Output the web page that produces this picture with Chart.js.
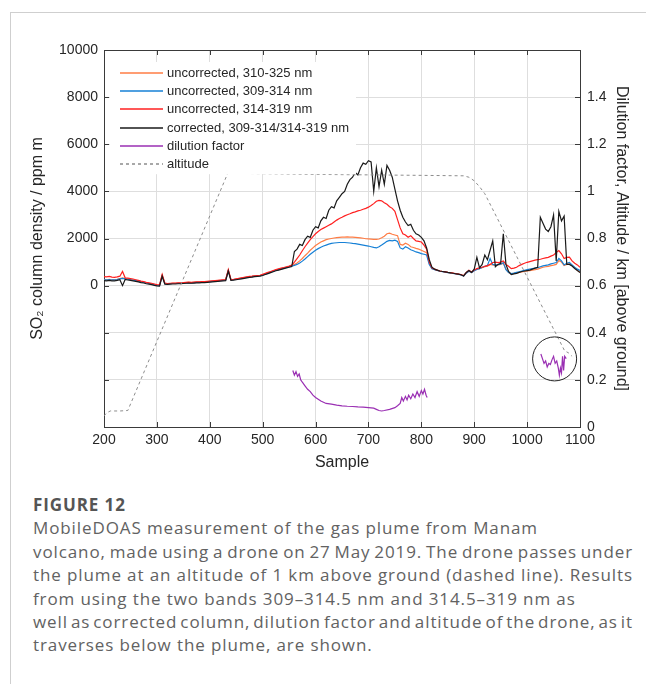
<!DOCTYPE html>
<html><head><meta charset="utf-8">
<script src="https://cdn.jsdelivr.net/npm/chart.js@4.4.1/dist/chart.umd.min.js"></script>
<style>
html,body{margin:0;padding:0;background:#fff;}
body{width:646px;height:684px;position:relative;overflow:hidden;}
#frame{position:absolute;left:10px;top:12px;width:640px;height:680px;border-top:1px solid #cfcfcf;border-left:1px solid #cfcfcf;}
#wrap{position:absolute;left:0;top:0;width:646px;height:480px;}
#cap{position:absolute;left:33px;top:493px;width:600px;font-family:'Open Sans',Lato,sans-serif;color:#626262;font-size:17px;line-height:23.4px;}
#cap .fig{font-weight:bold;font-size:17px;color:#555;}
#cap .l{white-space:nowrap;}
</style></head>
<body>
<div id="frame"></div>
<div id="wrap"><canvas id="c" width="646" height="480"></canvas></div>
<div id="cap">
<div class="fig">FIGURE 12</div>
<div class="l" id="first">MobileDOAS measurement of the gas plume from Manam</div>
<div class="l j">volcano, made using a drone on 27 May 2019. The drone passes under</div>
<div class="l j">the plume at an altitude of 1 km above ground (dashed line). Results</div>
<div class="l">from using the two bands 309–314.5 nm and 314.5–319 nm as</div>
<div class="l j">well as corrected column, dilution factor and altitude of the drone, as it</div>
<div class="l">traverses below the plume, are shown.</div>
</div>
<script>
// Sample grid: 200..1100 every 5 samples
const samples = [];
for (let s = 200; s <= 1100; s += 5) samples.push(s);

// uncorrected, 310-325 nm
const uncorr310_325 = [
 260,250,270,250,250,270,300,330,300,280,
 260,240,220,200,170,150,120,100,80,50,
 20,10,440,90,80,90,100,100,110,110,
 120,130,140,130,140,150,150,160,160,170,
 180,190,200,210,220,230,240,650,250,260,
 280,300,320,340,360,380,390,410,420,430,
 460,500,540,580,620,660,690,720,750,780,
 810,850,900,960,1050,1150,1270,1380,1500,1600,
 1700,1780,1850,1900,1950,1980,2000,2020,2040,2050,
 2060,2060,2070,2060,2060,2050,2040,2030,2010,1990,
 1980,1970,1960,1960,1980,2030,2100,2200,2230,2180,
 2150,2120,1750,1720,1800,1750,1650,1620,1580,1550,
 1500,1450,1400,950,740,690,650,620,600,580,
 560,545,525,505,485,460,420,540,620,560,
 640,700,720,760,800,820,900,880,860,880,
 900,950,700,560,500,520,540,560,580,600,
 620,640,660,680,700,740,780,800,820,850,
 870,900,1060,1000,850,900,930,850,750,650,
 570];

// uncorrected, 309-314 nm
const uncorr309_314 = [
 250,240,260,240,240,260,290,310,290,270,
 250,230,210,190,160,140,110,90,70,40,
 10,0,420,80,70,80,90,90,100,100,
 110,120,130,120,130,140,140,150,150,160,
 170,180,190,200,210,220,230,630,240,250,
 270,290,310,330,350,370,380,400,410,420,
 450,490,530,570,610,650,680,710,740,770,
 800,830,860,900,960,1040,1130,1230,1330,1420,
 1500,1570,1630,1680,1720,1760,1790,1810,1820,1830,
 1830,1830,1820,1810,1790,1780,1760,1740,1720,1700,
 1680,1650,1620,1600,1650,1720,1800,1880,1920,1900,
 1930,1880,1600,1550,1650,1600,1520,1480,1430,1400,
 1360,1330,1300,900,720,680,640,610,590,570,
 550,535,515,495,475,450,410,530,610,550,
 630,690,720,770,820,860,1150,900,870,890,
 910,980,680,560,510,530,560,590,620,650,
 680,700,720,740,760,800,840,860,880,920,
 950,980,1150,1050,880,950,980,880,780,700,
 640];

// uncorrected, 314-319 nm
const uncorr314_319 = [
 380,370,390,360,350,370,400,600,330,320,
 300,280,250,220,190,170,140,120,100,70,
 40,30,470,110,90,100,110,110,120,120,
 130,140,150,140,150,160,160,170,170,180,
 190,200,210,220,230,240,250,680,260,270,
 290,310,330,350,370,390,400,420,430,440,
 480,520,560,600,640,680,710,740,770,800,
 830,870,1000,1150,1300,1480,1650,1800,1950,2080,
 2200,2300,2380,2440,2500,2560,2620,2700,2780,2850,
 2900,2960,3010,3050,3100,3130,3170,3200,3240,3280,
 3330,3400,3480,3580,3620,3600,3520,3450,3350,3280,
 3150,2800,2450,2200,2150,2050,2120,2000,1900,1880,
 1850,1720,1550,1000,760,700,660,620,600,580,
 560,550,530,510,490,470,420,560,650,580,
 660,720,760,780,820,850,900,980,1000,980,
 1000,1050,900,820,720,740,780,850,900,950,
 990,1020,1050,1080,1100,1120,1150,1180,1200,1250,
 1300,1400,1490,1350,1150,1200,1210,1050,950,880,
 780];

// corrected, 309-314/314-319 nm
const corrected = [
 210,200,220,200,200,220,250,0,260,240,
 220,200,180,160,130,110,80,60,40,10,
 -10,-20,400,60,50,60,70,70,80,80,
 90,100,110,100,110,120,120,130,130,140,
 150,160,170,180,190,200,210,620,220,230,
 250,270,290,310,330,350,360,380,390,400,
 430,470,510,550,590,630,660,690,720,750,
 780,810,1450,1550,1750,1700,1950,2100,2050,2350,
 2500,2450,2750,2900,2850,3200,3350,3300,3600,3750,
 3900,4000,4300,4500,4600,4800,4700,5000,5200,5150,
 5300,5250,4000,5000,4200,4900,4300,5100,4900,4600,
 4100,3600,3200,2900,2700,2550,2600,2350,2200,2150,
 2050,1900,1600,1100,780,700,660,620,600,580,
 560,545,525,505,485,460,410,560,640,560,
 700,1200,750,900,1300,1100,1500,1900,800,900,
 950,2200,900,600,470,500,520,560,600,620,
 640,660,700,740,780,2900,2650,2400,2300,2500,
 3000,1050,3150,2750,2950,900,900,830,730,640,
 560];

// dilution factor (right axis), two segments
const dilSamplesA = [557,560,563,566,569,572,575,580,585,590,595,600,610,620,630,640,650,660,670,680,690,700,710,715,720,725,730,740,750,755,760,763,766,770,773,776,780,784,788,792,796,800,803,806,809,811];
const dilValuesA  = [0.24,0.22,0.235,0.215,0.225,0.2,0.19,0.175,0.16,0.15,0.135,0.125,0.11,0.1,0.097,0.093,0.09,0.088,0.087,0.085,0.084,0.082,0.08,0.075,0.07,0.068,0.07,0.075,0.082,0.09,0.1,0.125,0.11,0.13,0.115,0.135,0.12,0.14,0.125,0.15,0.13,0.155,0.14,0.16,0.135,0.125];
const dilSamplesB = [1026,1029,1032,1035,1038,1041,1044,1047,1050,1053,1056,1059,1061,1063,1065,1067,1069,1071,1074];
const dilValuesB  = [0.31,0.29,0.27,0.28,0.255,0.27,0.265,0.285,0.3,0.27,0.28,0.25,0.22,0.25,0.23,0.3,0.24,0.3,0.29];

// altitude (right axis, km)
const altSamples = [200,205,212,230,245,434,500,600,700,800,880,890,900,910,920,1071,1078,1085];
const altValues  = [0.047,0.06,0.068,0.068,0.07,1.077,1.075,1.072,1.07,1.068,1.066,1.06,1.045,1.02,0.99,0.323,0.315,0.3];

const leftTicks = [0,2000,4000,6000,8000,10000];
const rightTicks = [0,0.2,0.4,0.6,0.8,1,1.2,1.4];

const labels = ['uncorrected, 310-325 nm','uncorrected, 309-314 nm','uncorrected, 314-319 nm','corrected, 309-314/314-319 nm','dilution factor','altitude'];
const colors = ['#ff7d45','#1680d6','#ff2020','#1a1a1a','#9a2fb3','#8c8c8c'];

const zip = (xs, ys) => xs.map((v,i)=>({x:v, y:ys[i]}));
const base = {pointRadius:0, borderWidth:1.2, tension:0, fill:false};

const datasets = [
 {...base, label:labels[0], data:zip(samples,uncorr310_325), borderColor:colors[0], yAxisID:'y', order:5},
 {...base, label:labels[1], data:zip(samples,uncorr309_314), borderColor:colors[1], yAxisID:'y', order:4},
 {...base, label:labels[2], data:zip(samples,uncorr314_319), borderColor:colors[2], yAxisID:'y', order:3},
 {...base, label:labels[3], data:zip(samples,corrected), borderColor:colors[3], yAxisID:'y', order:2},
 {...base, label:labels[4], data:zip(dilSamplesA,dilValuesA), borderColor:colors[4], yAxisID:'y2', order:1},
 {...base, label:labels[4]+' ', data:zip(dilSamplesB,dilValuesB), borderColor:colors[4], yAxisID:'y2', order:1},
 {...base, label:labels[5], data:zip(altSamples,altValues), borderColor:colors[5], borderWidth:1, borderDash:[3,3], yAxisID:'y2', order:0}
];

const tickFont = {family:"'Liberation Sans', Arial, sans-serif", size:14};
const titleFont = {family:"'Liberation Sans', Arial, sans-serif", size:16};
const axisCol = '#3a3a3a';
const gridCol = '#dedede';

const overlay = {
  id:'overlay',
  afterDatasetsDraw(chart){
    const {ctx, chartArea:a, scales} = chart;
    const x = scales.x, y = scales.y, y2 = scales.y2;
    ctx.save();
    ctx.strokeStyle = axisCol; ctx.lineWidth = 1;
    ctx.beginPath();
    ctx.moveTo(a.left, Math.round(a.top)+0.5); ctx.lineTo(a.right, Math.round(a.top)+0.5);
    x.ticks.forEach(t=>{const px=Math.round(x.getPixelForValue(t.value))+0.5; ctx.moveTo(px,a.bottom); ctx.lineTo(px,a.bottom-5); ctx.moveTo(px,a.top); ctx.lineTo(px,a.top+5);});
    y.ticks.forEach(t=>{const py=Math.round(y.getPixelForValue(t.value))+0.5; ctx.moveTo(a.left,py); ctx.lineTo(a.left+5,py);});
    y2.ticks.forEach(t=>{const py=Math.round(y2.getPixelForValue(t.value))+0.5; ctx.moveTo(a.right,py); ctx.lineTo(a.right-5,py);});
    ctx.stroke();
    // circle highlighting the second dilution segment
    ctx.beginPath();
    ctx.strokeStyle = '#222';
    ctx.arc(x.getPixelForValue(1052), y2.getPixelForValue(0.289), 22, 0, Math.PI*2);
    ctx.stroke();
    // legend (white box, no border)
    const lx = a.left+6, ly = a.top+12, rowH = 18.2;
    ctx.fillStyle = '#fff';
    ctx.fillRect(lx, ly, 246, rowH*6+3);
    ctx.font = "13px 'Liberation Sans', Arial, sans-serif";
    ctx.textBaseline = 'middle';
    labels.forEach((lab,i)=>{
      const cy = Math.round(ly + 11 + i*rowH);
      ctx.beginPath();
      ctx.lineWidth = 1.5;
      ctx.strokeStyle = colors[i];
      ctx.setLineDash(i===5?[3,3]:[]);
      ctx.moveTo(lx+10, cy); ctx.lineTo(lx+53, cy);
      ctx.stroke();
      ctx.setLineDash([]);
      ctx.fillStyle = '#262626';
      ctx.fillText(lab, lx+57, cy);
    });
    ctx.restore();
  }
};

new Chart(document.getElementById('c'), {
  type:'line',
  data:{datasets},
  options:{
    responsive:false, animation:false, devicePixelRatio:1,
    layout:{padding:{top:50,left:0,right:0,bottom:0}},
    plugins:{legend:{display:false}, tooltip:{enabled:false}},
    scales:{
      x:{type:'linear', min:200, max:1100,
         ticks:{stepSize:100, color:'#262626', font:tickFont, padding:5, maxRotation:0, autoSkip:false,
                callback:v=>String(v)},
         grid:{color:gridCol, drawTicks:false}, border:{color:axisCol},
         title:{display:true, text:'Sample', color:'#262626', font:titleFont, padding:{top:0,bottom:8}},
         afterFit(s){s.height=53;}},
      y:{type:'linear', position:'left', min:-6000, max:10000,
         ticks:{stepSize:2000, color:'#262626', font:tickFont, padding:6, autoSkip:false,
                callback:v=> leftTicks.includes(v) ? String(v) : ''},
         grid:{color:gridCol, drawTicks:false}, border:{color:axisCol},
         title:{display:true, text:'SO₂ column density / ppm m', color:'#262626', font:titleFont, padding:{top:28,bottom:0}},
         afterFit(s){s.width=104;}},
      y2:{type:'linear', position:'right', min:0, max:1.6,
         ticks:{stepSize:0.2, color:'#262626', font:tickFont, padding:7, autoSkip:false,
                callback:v=>{const r=Math.round(v*10)/10; return rightTicks.includes(r)? String(r) : '';}},
         grid:{display:false, drawTicks:false}, border:{color:axisCol},
         title:{display:true, text:'Dilution factor, Altitude / km [above ground]', color:'#262626', font:titleFont, padding:{top:15,bottom:0}},
         afterFit(s){s.width=66;}}
    }
  },
  plugins:[overlay]
});

// caption: widen the text slightly so the first line spans ~505px, then justify lines to 600px
(function(){
  const cap = document.getElementById('cap');
  const first = document.getElementById('first');
  first.style.display='inline-block';
  const w1 = first.getBoundingClientRect().width;
  const n1 = first.textContent.length;
  const ls = Math.max(0, (505 - w1)/n1);
  cap.style.letterSpacing = ls + 'px';
  first.style.display='block';
  document.querySelectorAll('#cap .j').forEach(el=>{
    el.style.display='inline-block';
    const w = el.getBoundingClientRect().width;
    const spaces = (el.textContent.match(/ /g)||[]).length;
    el.style.wordSpacing = ((600 - w)/spaces) + 'px';
    el.style.display='block';
  });
})();
</script>
</body></html>
